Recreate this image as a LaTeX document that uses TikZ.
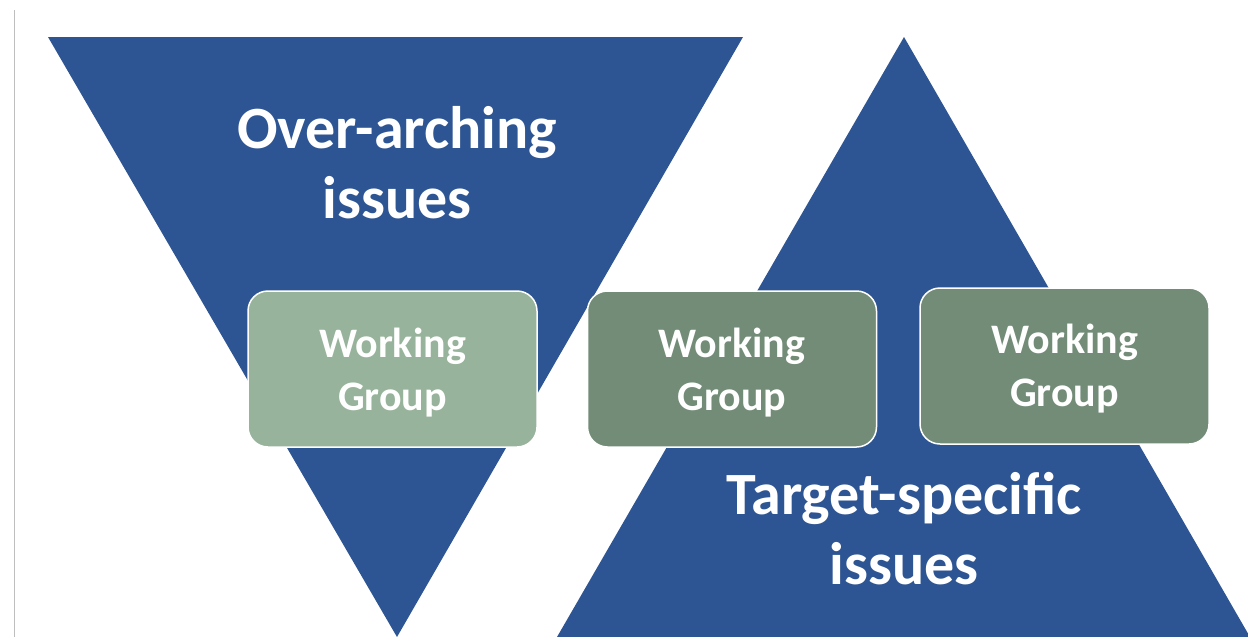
\documentclass[tikz,border=0pt]{standalone}
\usepackage{fontspec}
\setmainfont{Carlito}
\definecolor{triblue}{HTML}{2E5593}
\definecolor{wglight}{HTML}{97B39B}
\definecolor{wgdark}{HTML}{728C77}
\definecolor{rulegray}{HTML}{BEBEBE}
\tikzset{
  tri/.style={fill=triblue, draw=none},
  wgbox/.style={draw=white, line width=1.5pt, rounded corners=20pt, minimum width=289pt, minimum height=156pt, inner sep=0pt},
  wgtext/.style={text=white, font=\fontsize{42}{53}\selectfont\bfseries, align=center, inner sep=0pt},
  bigtext/.style={text=white, font=\fontsize{60}{70}\selectfont\bfseries, align=center, inner sep=0pt}
}
\begin{document}
\begin{tikzpicture}[x=1pt,y=-1pt]
\useasboundingbox (0,0) rectangle (1248,637);
\draw[rulegray, line width=1pt] (14,10) -- (14,637);
\fill[tri] (48,37) -- (743,37) -- (397,637) -- cycle;
\fill[tri] (904,37) -- (1250,637) -- (557,637) -- cycle;
\node[bigtext] (over) at (397,163) {Over-arching\\issues};
\node[bigtext] (target) at (904,529) {Target-specific\\issues};
\node[wgbox, fill=wglight] (wg1) at (392.5,369) {};
\node[wgbox, fill=wgdark] (wg2) at (732,369) {};
\node[wgbox, fill=wgdark] (wg3) at (1064.5,366) {};
\node[wgtext] (wg1t) at ([yshift=-4pt]wg1.center) {Working\\Group};
\node[wgtext] (wg2t) at ([yshift=-4pt]wg2.center) {Working\\Group};
\node[wgtext] (wg3t) at ([yshift=-3pt]wg3.center) {Working\\Group};
\end{tikzpicture}
\end{document}
